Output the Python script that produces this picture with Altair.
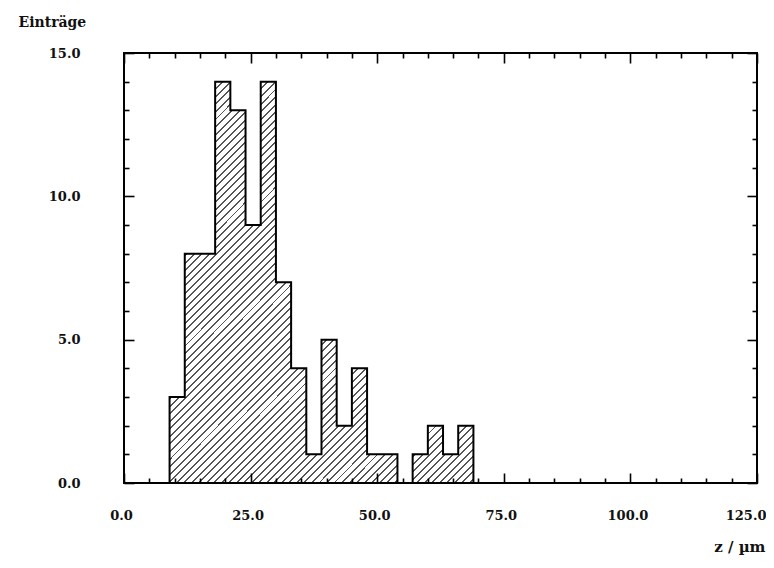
import altair as alt
import pandas as pd

# ---- data (histogram, bin width 3 µm) ----
bin_start = [9, 12, 15, 18, 21, 24, 27, 30, 33, 36, 39, 42, 45, 48, 51, 54, 57, 60, 63, 66]
counts = [3, 8, 8, 14, 13, 9, 14, 7, 4, 1, 5, 2, 4, 1, 1, 0, 1, 2, 1, 2]
bin_width = 3

x_major_ticks = [0, 25, 50, 75, 100, 125]
x_minor_ticks = [5, 10, 15, 20, 30, 35, 40, 45, 55, 60, 65, 70, 80, 85, 90, 95,
                 105, 110, 115, 120]
y_major_ticks = [0, 5, 10, 15]
y_minor_ticks = [1, 2, 3, 4, 6, 7, 8, 9, 11, 12, 13, 14]
x_domain = [0, 125]
y_domain = [0, 15]
x_title = "z / µm"
y_title = "Einträge"

# step outline: every bin start plus the closing edge of the last bin
df = pd.DataFrame({
    "z": bin_start + [bin_start[-1] + bin_width],
    "n": counts + [0],
})

FONT = "DejaVu Serif"
HATCH = "#555555"
MAJOR = 10
MINOR = 5

# diagonal hatching (about 45 degrees) imitated with a striped linear gradient
periods = 94
line_frac = 0.26
stops = []
for k in range(periods):
    a = k / periods
    b = (k + line_frac) / periods
    c = (k + 1) / periods
    stops += [
        alt.GradientStop(color=HATCH, offset=a),
        alt.GradientStop(color=HATCH, offset=b),
        alt.GradientStop(color="white", offset=b),
        alt.GradientStop(color="white", offset=c),
    ]
hatch = alt.LinearGradient(gradient="linear", stops=stops, x1=0, y1=0, x2=0.85, y2=1.12)

x_scale = alt.Scale(domain=x_domain, nice=False, zero=False)
y_scale = alt.Scale(domain=y_domain, nice=False)


def tick_axis(orient, values, size, **kw):
    """Axis that only draws ticks pointing into the plot (offset inward by the tick length)."""
    base = dict(
        orient=orient,
        values=values,
        tickSize=size,
        offset=-size,
        domain=False,
        grid=False,
        tickColor="black",
        tickWidth=1.6,
        labels=False,
        title=None,
        zindex=1,
    )
    base.update(kw)
    return alt.Axis(**base)


label_style = dict(
    labels=True,
    labelFont=FONT,
    labelFontSize=13,
    labelFontWeight="bold",
    labelColor="#111111",
    labelFlush=False,
    labelOverlap=False,
    format=".1f",
    titleFont=FONT,
    titleFontWeight="bold",
    titleColor="#111111",
)

bars = alt.Chart(df).mark_area(
    interpolate="step-after",
    fill=hatch,
    stroke="black",
    strokeWidth=2,
    strokeJoin="miter",
).encode(
    x=alt.X("z:Q", scale=x_scale, axis=tick_axis(
        "bottom", x_major_ticks, MAJOR,
        labelPadding=26,
        labelOffset={"condition": {"test": "datum.value === 125", "value": 9}, "value": -3},
        labelAlign={"condition": {"test": "datum.value === 125", "value": "right"}, "value": "center"},
        title=x_title,
        titleFontSize=15,
        titleX=641,
        titleY=78,
        titleAlign="right",
        titleBaseline="alphabetic",
        **label_style,
    )),
    y=alt.Y("n:Q", scale=y_scale, axis=tick_axis(
        "left", y_major_ticks, MAJOR,
        labelPadding=44,
        title=y_title,
        titleFontSize=14,
        titleAngle=0,
        titleX=-116,
        titleY=-27,
        titleAlign="left",
        titleBaseline="alphabetic",
        **label_style,
    )),
)

minor_bl = alt.Chart(df).mark_point(opacity=0).encode(
    x=alt.X("z:Q", scale=x_scale, axis=tick_axis("bottom", x_minor_ticks, MINOR)),
    y=alt.Y("n:Q", scale=y_scale, axis=tick_axis("left", y_minor_ticks, MINOR)),
)
major_tr = alt.Chart(df).mark_point(opacity=0).encode(
    x=alt.X("z:Q", scale=x_scale, axis=tick_axis("top", x_major_ticks, MAJOR)),
    y=alt.Y("n:Q", scale=y_scale, axis=tick_axis("right", y_major_ticks, MAJOR)),
)
minor_tr = alt.Chart(df).mark_point(opacity=0).encode(
    x=alt.X("z:Q", scale=x_scale, axis=tick_axis("top", x_minor_ticks, MINOR)),
    y=alt.Y("n:Q", scale=y_scale, axis=tick_axis("right", y_minor_ticks, MINOR)),
)

chart = alt.layer(bars, minor_bl, major_tr, minor_tr).resolve_axis(
    x="independent", y="independent"
).properties(
    width=633,
    height=430,
    padding={"left": 116, "top": 45, "right": 9, "bottom": 72},
    autosize=alt.AutoSizeParams(type="none"),
    background="white",
).configure_view(stroke="black", strokeWidth=2)

chart.save("out.html", embed_options={"renderer": "svg", "actions": False})
